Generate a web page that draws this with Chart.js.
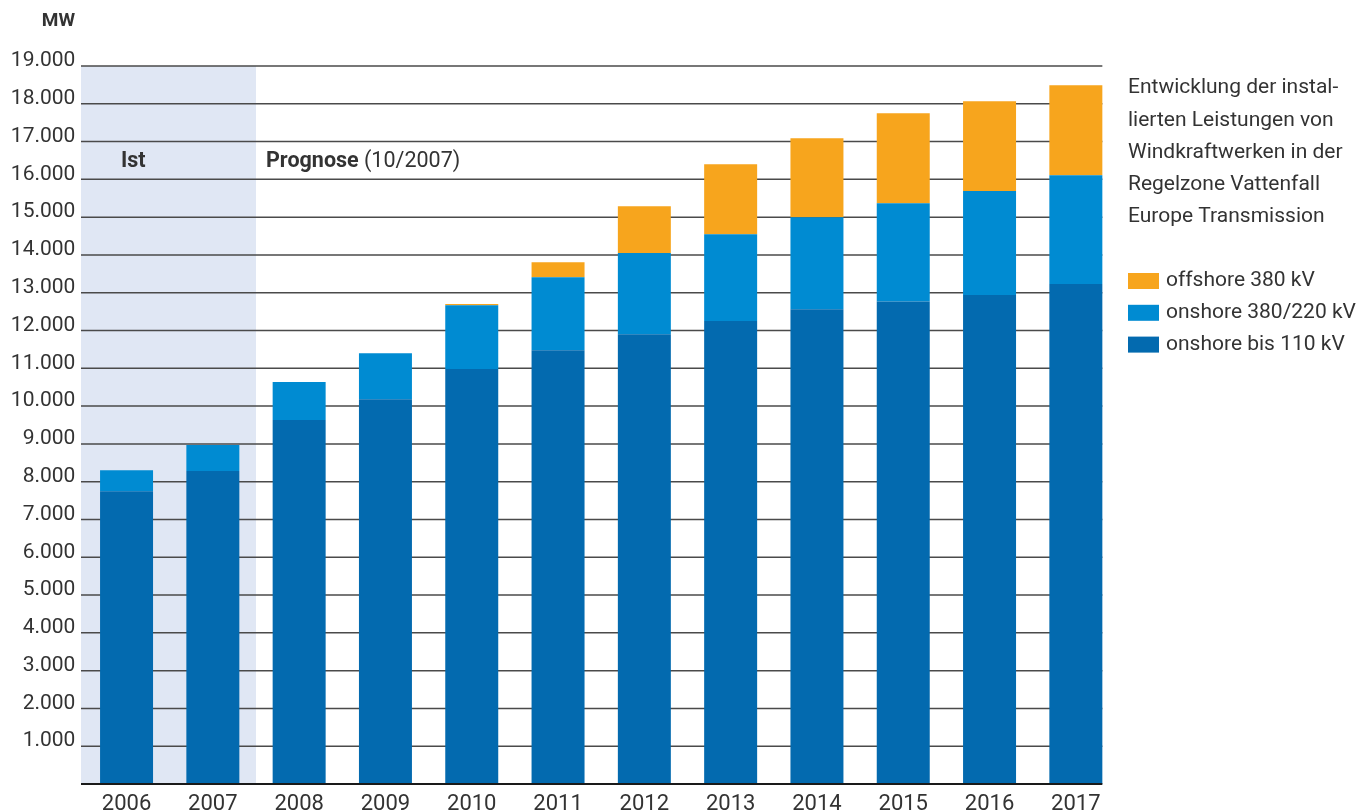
<!DOCTYPE html>
<html>
<head>
<meta charset="utf-8">
<script src="https://cdn.jsdelivr.net/npm/chart.js@4"></script>
<style>
  html, body { margin: 0; padding: 0; background: #fff; }
  #chart { display: block; }
</style>
</head>
<body>
<canvas id="chart" width="1366" height="810"></canvas>
<script>
// values (MW)
const years = ['2006', '2007', '2008', '2009', '2010', '2011', '2012', '2013', '2014', '2015', '2016', '2017'];
const onshore110 = [7750, 8280, 9630, 10180, 10980, 11480, 11900, 12250, 12560, 12770, 12940, 13230];
const onshore380 = [550, 690, 1010, 1220, 1690, 1930, 2150, 2300, 2440, 2600, 2750, 2880];
const offshore380 = [0, 0, 0, 0, 30, 400, 1240, 1850, 2090, 2380, 2380, 2380];
const seriesNames = ['onshore bis 110 kV', 'onshore 380/220 kV', 'offshore 380 kV'];
const yTicks = [1000, 2000, 3000, 4000, 5000, 6000, 7000, 8000, 9000, 10000,
  11000, 12000, 13000, 14000, 15000, 16000, 17000, 18000, 19000];
const descLines = ['Entwicklung der instal-', 'lierten Leistungen von', 'Windkraftwerken in der',
  'Regelzone Vattenfall', 'Europe Transmission'];

const colors = ['#036aaf', '#008bd2', '#f7a51d'];
const FONT = 'Roboto, "Open Sans", sans-serif';
const TXT = '#333333';

const fmt = v => v === 0 ? '' : (v / 1000) + '.000';

const decor = {
  id: 'decor',
  beforeDatasetsDraw(chart) {
    const { ctx, scales: { x, y } } = chart;
    const left = 81;
    const last = chart.getDatasetMeta(0).data[years.length - 1];
    const right = last.x + last.width / 2;
    const top = y.getPixelForValue(19000);
    const bottom = y.getPixelForValue(0);
    ctx.save();
    // "Ist" band
    const split = (x.getPixelForValue(1) + x.getPixelForValue(2)) / 2;
    ctx.fillStyle = '#e0e7f4';
    ctx.fillRect(left, top, split - left, bottom - top);
    // grid
    ctx.strokeStyle = '#4a4a4a';
    ctx.lineWidth = 1.5;
    yTicks.forEach(v => {
      const py = y.getPixelForValue(v);
      ctx.beginPath();
      ctx.moveTo(left, py);
      ctx.lineTo(right, py);
      ctx.stroke();
    });
    // band labels
    ctx.fillStyle = TXT;
    ctx.textBaseline = 'middle';
    ctx.font = 'bold 21.5px ' + FONT;
    ctx.fillText('Ist', 121, 162);
    ctx.fillText('Prognose', 266, 162);
    const w = ctx.measureText('Prognose ').width;
    ctx.font = '21.5px ' + FONT;
    ctx.fillText('(10/2007)', 266 + w, 162);
    ctx.restore();
  },
  afterDatasetsDraw(chart) {
    const { ctx, scales: { y } } = chart;
    const last = chart.getDatasetMeta(0).data[years.length - 1];
    const right = last.x + last.width / 2;
    const py = y.getPixelForValue(0);
    ctx.save();
    ctx.strokeStyle = '#1a1a1a';
    ctx.lineWidth = 2;
    ctx.beginPath();
    ctx.moveTo(81, py);
    ctx.lineTo(right, py);
    ctx.stroke();
    ctx.restore();
  },
  afterDraw(chart) {
    const { ctx } = chart;
    ctx.save();
    ctx.fillStyle = TXT;
    ctx.textBaseline = 'middle';
    ctx.font = 'bold 19px ' + FONT;
    ctx.textAlign = 'right';
    ctx.fillText('MW', 75, 21);
    ctx.textAlign = 'left';
    ctx.font = '21px ' + FONT;
    descLines.forEach((t, i) => ctx.fillText(t, 1128, 88 + i * 32.3));
    // legend, top to bottom reversed stack order
    const ds = chart.data.datasets;
    for (let i = 0; i < ds.length; i++) {
      const d = ds[ds.length - 1 - i];
      const cy = 281 + i * 31.8;
      ctx.fillStyle = d.backgroundColor;
      ctx.fillRect(1128, cy - 8, 31, 16);
      ctx.fillStyle = TXT;
      ctx.fillText(d.label, 1166, cy);
    }
    ctx.restore();
  }
};

new Chart(document.getElementById('chart'), {
  type: 'bar',
  data: {
    labels: years,
    datasets: [
      { label: seriesNames[0], data: onshore110, backgroundColor: colors[0] },
      { label: seriesNames[1], data: onshore380, backgroundColor: colors[1] },
      { label: seriesNames[2], data: offshore380, backgroundColor: colors[2] }
    ]
  },
  options: {
    responsive: false,
    animation: false,
    devicePixelRatio: 1,
    layout: { padding: { top: 66, right: 247, left: 0, bottom: 0 } },
    datasets: { bar: { categoryPercentage: 1, barPercentage: 0.614, borderWidth: 0 } },
    plugins: { legend: { display: false }, tooltip: { enabled: false } },
    scales: {
      x: {
        stacked: true,
        grid: { display: false },
        border: { display: false },
        ticks: { color: TXT, font: { family: FONT, size: 22 }, padding: -1, maxRotation: 0 },
        afterFit(s) { s.height = 26; }
      },
      y: {
        stacked: true,
        min: 0,
        max: 19000,
        grid: { display: false, drawTicks: false },
        border: { display: false },
        ticks: {
          stepSize: 1000,
          color: TXT,
          font: { family: FONT, size: 21 },
          padding: 8,
          labelOffset: -5,
          callback: v => fmt(v)
        },
        afterFit(s) { s.width = 83.4; }
      }
    }
  },
  plugins: [decor]
});
</script>
</body>
</html>
